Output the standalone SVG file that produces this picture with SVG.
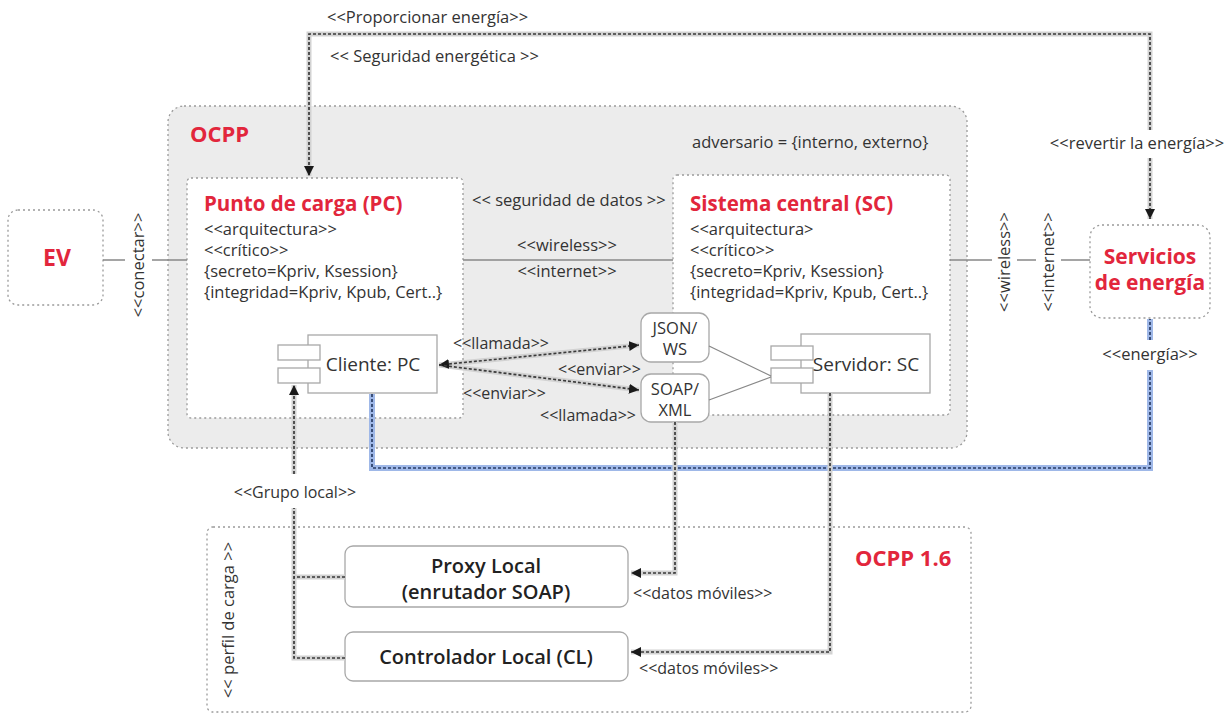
<svg xmlns="http://www.w3.org/2000/svg" width="1229" height="714" viewBox="0 0 1229 714">
<defs>
<style>
text{font-family:"Open Sans","Noto Sans","DejaVu Sans",sans-serif;fill:#333}
.t{font-size:16.5px}
.s{font-size:16px}
.red{fill:#e2263c;font-weight:bold}
.h{font-size:20.5px}
.b{font-weight:600;font-size:20px;fill:#222}
.dot{fill:#fff;stroke:#9a9a9a;stroke-width:1.3;stroke-dasharray:2 3}
.box{fill:#fff;stroke:#a8a8a8;stroke-width:1.3}
.ln{fill:none;stroke:#888;stroke-width:1.3}
.halo{fill:none;stroke:#d2d2d2;stroke-width:5}
.dash{fill:none;stroke:#3a3a3a;stroke-width:1.7;stroke-dasharray:3 2}
.bhalo{fill:none;stroke:#9fb8e8;stroke-width:6}
.bdash{fill:none;stroke:#2a3d66;stroke-width:1.7;stroke-dasharray:3 2}
</style>
<marker id="ar" viewBox="0 0 10 10" refX="10" refY="5" markerWidth="10" markerHeight="10" markerUnits="userSpaceOnUse" orient="auto-start-reverse">
<path d="M0,0 L10,5 L0,10 z" fill="#1a1a1a"/>
</marker>
</defs>
<rect width="1229" height="714" fill="#fff"/>

<g id="ocpp">
<rect x="168" y="106" width="799" height="342" rx="16" fill="#ececec" stroke="#9a9a9a" stroke-width="1.3" stroke-dasharray="2 3"/>
<text x="190" y="142" class="red" font-size="22">OCPP</text>
<text x="692" y="148" class="t">adversario = {interno, externo}</text>
<text x="472" y="206" class="t">&lt;&lt; seguridad de datos &gt;&gt;</text>
</g>

<g id="ocpp16">
<rect x="207" y="527" width="764" height="185" rx="6" class="dot"/>
<text x="855" y="566" class="red" font-size="22">OCPP 1.6</text>
<text transform="translate(234,620) rotate(-90)" text-anchor="middle" class="t">&lt;&lt; perfil de carga &gt;&gt;</text>
</g>

<g id="ev">
<rect x="8" y="210" width="95" height="95" rx="10" class="dot"/>
<text x="57" y="266" text-anchor="middle" class="red" font-size="23">EV</text>
</g>

<g id="pc">
<rect x="187" y="178" width="276" height="240" rx="4" class="dot"/>
<text x="204" y="211" class="red h">Punto de carga (PC)</text>
<text x="204" y="235" class="t">&lt;&lt;arquitectura&gt;&gt;</text>
<text x="204" y="256" class="t">&lt;&lt;crítico&gt;&gt;</text>
<text x="204" y="277" class="t">{secreto=Kpriv, Ksession}</text>
<text x="204" y="298" class="t">{integridad=Kpriv, Kpub, Cert..}</text>
</g>

<g id="cliente">
<rect x="308" y="335" width="129" height="58" class="box"/>
<rect x="278" y="345" width="42" height="15" class="box"/>
<rect x="278" y="368" width="42" height="15" class="box"/>
<text x="373" y="371" text-anchor="middle" font-size="19">Cliente: PC</text>
</g>

<g id="sc">
<rect x="673" y="175" width="277" height="240" rx="4" class="dot"/>
<text x="690" y="211" class="red h">Sistema central (SC)</text>
<text x="690" y="235" class="t">&lt;&lt;arquitectura&gt;</text>
<text x="690" y="256" class="t">&lt;&lt;crítico&gt;&gt;</text>
<text x="690" y="277" class="t">{secreto=Kpriv, Ksession}</text>
<text x="690" y="298" class="t">{integridad=Kpriv, Kpub, Cert..}</text>
</g>

<g id="servidor">
<rect x="801" y="334" width="129" height="59" class="box"/>
<rect x="771" y="346" width="42" height="14" class="box"/>
<rect x="771" y="368" width="42" height="15" class="box"/>
<text x="866" y="371" text-anchor="middle" font-size="19">Servidor: SC</text>
</g>

<g id="json">
<rect x="641" y="313" width="68" height="49" rx="10" class="box"/>
<text x="675" y="334" text-anchor="middle" class="t">JSON/</text>
<text x="675" y="355" text-anchor="middle" class="t">WS</text>
</g>

<g id="soap">
<rect x="641" y="374" width="68" height="48" rx="10" class="box"/>
<text x="675" y="395" text-anchor="middle" class="t">SOAP/</text>
<text x="675" y="416" text-anchor="middle" class="t">XML</text>
</g>

<g id="servicios">
<rect x="1090" y="225" width="120" height="93" rx="12" class="dot"/>
<text x="1150" y="264" text-anchor="middle" class="red" font-size="21">Servicios</text>
<text x="1150" y="290" text-anchor="middle" class="red" font-size="21">de energía</text>
</g>

<g id="proxy">
<rect x="345" y="546" width="283" height="61" rx="8" class="box"/>
<text x="486" y="573" text-anchor="middle" class="b">Proxy Local</text>
<text x="486" y="599" text-anchor="middle" class="b">(enrutador SOAP)</text>
</g>

<g id="controlador">
<rect x="345" y="632" width="283" height="49" rx="8" class="box"/>
<text x="486" y="664" text-anchor="middle" class="b">Controlador Local (CL)</text>
</g>

<g id="connectors">
<path class="ln" d="M103,260 H125 M152,260 H187"/>
<path class="ln" d="M463,260 H673"/>
<path class="ln" d="M950,260 H992 M1017,260 H1036 M1061,260 H1090"/>
<path class="ln" d="M709,346 L771,376 M709,400 L771,377"/>
<path class="bhalo" d="M372,394 V468 H1150 V370 M1150,340 V319"/>
<path class="bdash" d="M372,394 V468 H1150 V370 M1150,340 V319"/>
<path class="halo" d="M1150,130 V34 H309 V176 M1150,158 V219"/>
<path class="dash" d="M1150,130 V34 H309 V176" marker-end="url(#ar)"/>
<path class="dash" d="M1150,158 V219" marker-end="url(#ar)"/>
<path class="halo" d="M439,365 L639,345 M439,365 L639,390"/>
<path class="dash" d="M439,365 L639,345" marker-start="url(#ar)" marker-end="url(#ar)"/>
<path class="dash" d="M439,365 L639,390" marker-end="url(#ar)"/>
<path class="halo" d="M675,422 V573 H631"/>
<path class="dash" d="M675,422 V573 H631" marker-end="url(#ar)"/>
<path class="halo" d="M830,393 V652 H631"/>
<path class="dash" d="M830,393 V652 H631" marker-end="url(#ar)"/>
<path class="halo" d="M345,577 H294 M345,658 H294 V508 M294,474 V385"/>
<path class="dash" d="M345,577 H294 M345,658 H294 V508"/>
<path class="dash" d="M294,474 V385" marker-end="url(#ar)"/>
<text x="327" y="23" class="t">&lt;&lt;Proporcionar energía&gt;&gt;</text>
<text x="330" y="62" class="t">&lt;&lt; Seguridad energética &gt;&gt;</text>
<text x="1137" y="149" text-anchor="middle" class="t">&lt;&lt;revertir la energía&gt;&gt;</text>
<text x="1150" y="360" text-anchor="middle" class="t">&lt;&lt;energía&gt;&gt;</text>
<text transform="translate(144,265) rotate(-90)" text-anchor="middle" class="t">&lt;&lt;conectar&gt;&gt;</text>
<text transform="translate(1010,262) rotate(-90)" text-anchor="middle" class="t">&lt;&lt;wireless&gt;&gt;</text>
<text transform="translate(1054,262) rotate(-90)" text-anchor="middle" class="t">&lt;&lt;internet&gt;&gt;</text>
<text x="567" y="251" text-anchor="middle" class="t">&lt;&lt;wireless&gt;&gt;</text>
<text x="567" y="277" text-anchor="middle" class="t">&lt;&lt;internet&gt;&gt;</text>
<text x="453" y="349" class="s">&lt;&lt;llamada&gt;&gt;</text>
<text x="558" y="375" class="s">&lt;&lt;enviar&gt;&gt;</text>
<text x="463" y="399" class="s">&lt;&lt;enviar&gt;&gt;</text>
<text x="540" y="421" class="s">&lt;&lt;llamada&gt;&gt;</text>
<text x="295" y="498" text-anchor="middle" class="s">&lt;&lt;Grupo local&gt;&gt;</text>
<text x="633" y="599" class="s">&lt;&lt;datos móviles&gt;&gt;</text>
<text x="639" y="674" class="s">&lt;&lt;datos móviles&gt;&gt;</text>
</g>
</svg>
